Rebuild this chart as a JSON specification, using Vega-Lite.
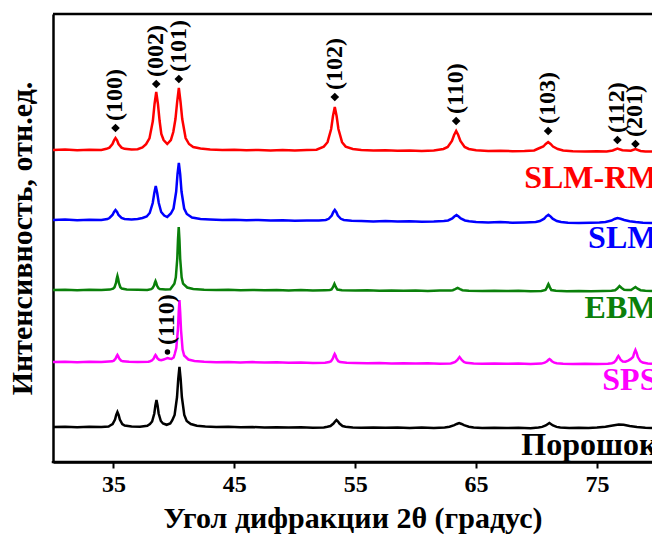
{
"$schema": "https://vega.github.io/schema/vega-lite/v6.json",
"width": 599, "height": 448,
"autosize": {"type": "none"},
"padding": {"left": 53, "top": 14, "right": 0, "bottom": 72},
"background": "white",
"config": {"view": {"stroke": "black", "strokeWidth": 2.5, "strokeDash": [600, 447]}, "font": "Liberation Serif"},
"datasets": {
"traces": [
{"s":"SLM-RM","x":30,"y":312},{"s":"SLM-RM","x":31,"y":312.5},{"s":"SLM-RM","x":32,"y":311.8},{"s":"SLM-RM","x":33,"y":312.3},{"s":"SLM-RM","x":34,"y":312},{"s":"SLM-RM","x":34.42,"y":313.2},{"s":"SLM-RM","x":34.67,"y":314.4},{"s":"SLM-RM","x":34.92,"y":318},{"s":"SLM-RM","x":35.05,"y":321.6},{"s":"SLM-RM","x":35.17,"y":324},{"s":"SLM-RM","x":35.3,"y":321.6},{"s":"SLM-RM","x":35.42,"y":318},{"s":"SLM-RM","x":35.67,"y":314.4},{"s":"SLM-RM","x":35.92,"y":313.2},{"s":"SLM-RM","x":36.5,"y":312.5},{"s":"SLM-RM","x":37,"y":312.8},{"s":"SLM-RM","x":37.4,"y":314.5},{"s":"SLM-RM","x":37.7,"y":317.8},{"s":"SLM-RM","x":37.98,"y":323.6},{"s":"SLM-RM","x":38.26,"y":341},{"s":"SLM-RM","x":38.4,"y":358},{"s":"SLM-RM","x":38.54,"y":370},{"s":"SLM-RM","x":38.68,"y":358},{"s":"SLM-RM","x":38.82,"y":341},{"s":"SLM-RM","x":38.96,"y":328},{"s":"SLM-RM","x":39.15,"y":322},{"s":"SLM-RM","x":39.45,"y":318},{"s":"SLM-RM","x":39.75,"y":322},{"s":"SLM-RM","x":39.95,"y":330},{"s":"SLM-RM","x":40.13,"y":343},{"s":"SLM-RM","x":40.27,"y":360},{"s":"SLM-RM","x":40.41,"y":374},{"s":"SLM-RM","x":40.55,"y":360},{"s":"SLM-RM","x":40.69,"y":343},{"s":"SLM-RM","x":40.97,"y":324},{"s":"SLM-RM","x":41.25,"y":318},{"s":"SLM-RM","x":41.6,"y":315},{"s":"SLM-RM","x":42.2,"y":313.5},{"s":"SLM-RM","x":43,"y":312.5},{"s":"SLM-RM","x":44,"y":312},{"s":"SLM-RM","x":45,"y":312.3},{"s":"SLM-RM","x":46,"y":311.7},{"s":"SLM-RM","x":47,"y":312},{"s":"SLM-RM","x":48,"y":311.6},{"s":"SLM-RM","x":49,"y":312},{"s":"SLM-RM","x":50,"y":311.5},{"s":"SLM-RM","x":51,"y":312},{"s":"SLM-RM","x":51.8,"y":312.3},{"s":"SLM-RM","x":52.4,"y":315.4},{"s":"SLM-RM","x":52.71,"y":319.8},{"s":"SLM-RM","x":53.01,"y":333},{"s":"SLM-RM","x":53.16,"y":346},{"s":"SLM-RM","x":53.31,"y":355},{"s":"SLM-RM","x":53.46,"y":346},{"s":"SLM-RM","x":53.61,"y":333},{"s":"SLM-RM","x":53.91,"y":319.8},{"s":"SLM-RM","x":54.21,"y":315.4},{"s":"SLM-RM","x":54.8,"y":313},{"s":"SLM-RM","x":55.5,"y":312},{"s":"SLM-RM","x":56.5,"y":311.5},{"s":"SLM-RM","x":57.5,"y":311.8},{"s":"SLM-RM","x":58.5,"y":311.3},{"s":"SLM-RM","x":59.5,"y":311.6},{"s":"SLM-RM","x":60.5,"y":311},{"s":"SLM-RM","x":61.5,"y":311.4},{"s":"SLM-RM","x":62.3,"y":313},{"s":"SLM-RM","x":62.65,"y":315},{"s":"SLM-RM","x":63,"y":321},{"s":"SLM-RM","x":63.18,"y":327},{"s":"SLM-RM","x":63.35,"y":331},{"s":"SLM-RM","x":63.52,"y":327},{"s":"SLM-RM","x":63.7,"y":321},{"s":"SLM-RM","x":64.05,"y":315},{"s":"SLM-RM","x":64.4,"y":313},{"s":"SLM-RM","x":65,"y":311.8},{"s":"SLM-RM","x":66,"y":311},{"s":"SLM-RM","x":67,"y":311.3},{"s":"SLM-RM","x":68,"y":310.8},{"s":"SLM-RM","x":69,"y":311},{"s":"SLM-RM","x":69.8,"y":311.5},{"s":"SLM-RM","x":70.16,"y":313.5},{"s":"SLM-RM","x":70.56,"y":315.5},{"s":"SLM-RM","x":70.76,"y":318},{"s":"SLM-RM","x":70.96,"y":320},{"s":"SLM-RM","x":71.16,"y":318},{"s":"SLM-RM","x":71.36,"y":315.5},{"s":"SLM-RM","x":71.76,"y":313},{"s":"SLM-RM","x":72.2,"y":311.5},{"s":"SLM-RM","x":73,"y":310.8},{"s":"SLM-RM","x":74,"y":310.5},{"s":"SLM-RM","x":75,"y":310.8},{"s":"SLM-RM","x":75.8,"y":310.6},{"s":"SLM-RM","x":76.3,"y":311.5},{"s":"SLM-RM","x":76.69,"y":313.5},{"s":"SLM-RM","x":77.1,"y":311.8},{"s":"SLM-RM","x":77.8,"y":311.3},{"s":"SLM-RM","x":78.18,"y":313},{"s":"SLM-RM","x":78.6,"y":311},{"s":"SLM-RM","x":79,"y":310.6},{"s":"SLM-RM","x":79.55,"y":310.5},
{"s":"SLM","x":30,"y":242},{"s":"SLM","x":31,"y":242.4},{"s":"SLM","x":32,"y":241.8},{"s":"SLM","x":33,"y":242.2},{"s":"SLM","x":34,"y":242},{"s":"SLM","x":34.5,"y":243},{"s":"SLM","x":34.67,"y":244},{"s":"SLM","x":34.92,"y":247},{"s":"SLM","x":35.05,"y":250},{"s":"SLM","x":35.17,"y":252},{"s":"SLM","x":35.3,"y":250},{"s":"SLM","x":35.42,"y":247},{"s":"SLM","x":35.67,"y":244},{"s":"SLM","x":35.92,"y":243},{"s":"SLM","x":36.5,"y":242.5},{"s":"SLM","x":37,"y":243},{"s":"SLM","x":37.4,"y":244},{"s":"SLM","x":37.75,"y":245.5},{"s":"SLM","x":38,"y":249},{"s":"SLM","x":38.25,"y":259},{"s":"SLM","x":38.38,"y":269},{"s":"SLM","x":38.5,"y":276},{"s":"SLM","x":38.62,"y":269},{"s":"SLM","x":38.75,"y":259},{"s":"SLM","x":38.95,"y":250},{"s":"SLM","x":39.2,"y":246.5},{"s":"SLM","x":39.45,"y":245},{"s":"SLM","x":39.75,"y":248.5},{"s":"SLM","x":39.97,"y":253.5},{"s":"SLM","x":40.19,"y":270.5},{"s":"SLM","x":40.3,"y":288},{"s":"SLM","x":40.41,"y":299},{"s":"SLM","x":40.52,"y":288},{"s":"SLM","x":40.63,"y":270.5},{"s":"SLM","x":40.85,"y":253.5},{"s":"SLM","x":41.07,"y":248},{"s":"SLM","x":41.5,"y":244.5},{"s":"SLM","x":42.2,"y":243},{"s":"SLM","x":43,"y":242.5},{"s":"SLM","x":44,"y":242},{"s":"SLM","x":45,"y":242.3},{"s":"SLM","x":46,"y":241.7},{"s":"SLM","x":47,"y":242},{"s":"SLM","x":48,"y":241.5},{"s":"SLM","x":49,"y":241.8},{"s":"SLM","x":50,"y":241.3},{"s":"SLM","x":51,"y":241.6},{"s":"SLM","x":52,"y":241.5},{"s":"SLM","x":52.56,"y":242.1},{"s":"SLM","x":52.81,"y":243.2},{"s":"SLM","x":53.06,"y":246.5},{"s":"SLM","x":53.18,"y":249.8},{"s":"SLM","x":53.31,"y":252},{"s":"SLM","x":53.44,"y":249.8},{"s":"SLM","x":53.56,"y":246.5},{"s":"SLM","x":53.81,"y":243.2},{"s":"SLM","x":54.06,"y":242.1},{"s":"SLM","x":54.7,"y":241.3},{"s":"SLM","x":55.5,"y":241},{"s":"SLM","x":56.5,"y":240.6},{"s":"SLM","x":57.5,"y":241},{"s":"SLM","x":58.5,"y":240.4},{"s":"SLM","x":59.5,"y":240.8},{"s":"SLM","x":60.5,"y":240.2},{"s":"SLM","x":61.5,"y":240.5},{"s":"SLM","x":62.33,"y":241},{"s":"SLM","x":62.68,"y":241.5},{"s":"SLM","x":63.03,"y":243.5},{"s":"SLM","x":63.2,"y":245.5},{"s":"SLM","x":63.38,"y":247},{"s":"SLM","x":63.55,"y":245.5},{"s":"SLM","x":63.73,"y":243.5},{"s":"SLM","x":64.08,"y":241.5},{"s":"SLM","x":64.43,"y":240.7},{"s":"SLM","x":65,"y":240},{"s":"SLM","x":66,"y":239.6},{"s":"SLM","x":67,"y":239.9},{"s":"SLM","x":68,"y":239.3},{"s":"SLM","x":69,"y":239.6},{"s":"SLM","x":69.93,"y":240.1},{"s":"SLM","x":70.28,"y":241},{"s":"SLM","x":70.63,"y":243.3},{"s":"SLM","x":70.8,"y":245.7},{"s":"SLM","x":70.98,"y":247.3},{"s":"SLM","x":71.15,"y":245.7},{"s":"SLM","x":71.33,"y":243.3},{"s":"SLM","x":71.68,"y":241},{"s":"SLM","x":72.03,"y":240},{"s":"SLM","x":72.6,"y":239.2},{"s":"SLM","x":73.5,"y":239},{"s":"SLM","x":74.5,"y":239.3},{"s":"SLM","x":75.2,"y":239.5},{"s":"SLM","x":75.7,"y":240},{"s":"SLM","x":76.2,"y":241.5},{"s":"SLM","x":76.45,"y":243},{"s":"SLM","x":76.69,"y":244},{"s":"SLM","x":76.95,"y":243.3},{"s":"SLM","x":77.25,"y":242},{"s":"SLM","x":77.7,"y":240.8},{"s":"SLM","x":78.2,"y":240},{"s":"SLM","x":78.8,"y":239.3},{"s":"SLM","x":79.55,"y":239},
{"s":"EBM","x":30,"y":172},{"s":"EBM","x":31,"y":172.3},{"s":"EBM","x":32,"y":171.8},{"s":"EBM","x":33,"y":172.2},{"s":"EBM","x":34,"y":172},{"s":"EBM","x":34.7,"y":172.4},{"s":"EBM","x":34.97,"y":173.4},{"s":"EBM","x":35.09,"y":174.8},{"s":"EBM","x":35.21,"y":179},{"s":"EBM","x":35.27,"y":183.2},{"s":"EBM","x":35.33,"y":186},{"s":"EBM","x":35.39,"y":183.2},{"s":"EBM","x":35.45,"y":179},{"s":"EBM","x":35.57,"y":174.8},{"s":"EBM","x":35.69,"y":173.4},{"s":"EBM","x":36.1,"y":172.5},{"s":"EBM","x":37,"y":172.2},{"s":"EBM","x":37.8,"y":172},{"s":"EBM","x":38.12,"y":172.9},{"s":"EBM","x":38.24,"y":173.8},{"s":"EBM","x":38.36,"y":176.5},{"s":"EBM","x":38.42,"y":179.2},{"s":"EBM","x":38.48,"y":181},{"s":"EBM","x":38.54,"y":179.2},{"s":"EBM","x":38.6,"y":176.5},{"s":"EBM","x":38.72,"y":173.8},{"s":"EBM","x":38.84,"y":172.9},{"s":"EBM","x":39.3,"y":172.4},{"s":"EBM","x":39.7,"y":172.8},{"s":"EBM","x":40.04,"y":178.3},{"s":"EBM","x":40.16,"y":184.6},{"s":"EBM","x":40.28,"y":203.5},{"s":"EBM","x":40.34,"y":222.4},{"s":"EBM","x":40.4,"y":235},{"s":"EBM","x":40.46,"y":222.4},{"s":"EBM","x":40.52,"y":203.5},{"s":"EBM","x":40.64,"y":184.6},{"s":"EBM","x":40.76,"y":178.3},{"s":"EBM","x":41.1,"y":174.5},{"s":"EBM","x":41.6,"y":173},{"s":"EBM","x":42.5,"y":172.3},{"s":"EBM","x":43.5,"y":172},{"s":"EBM","x":44.5,"y":172.3},{"s":"EBM","x":45.5,"y":171.8},{"s":"EBM","x":46.5,"y":172.1},{"s":"EBM","x":47.5,"y":171.7},{"s":"EBM","x":48.5,"y":172},{"s":"EBM","x":49.5,"y":171.6},{"s":"EBM","x":50.5,"y":171.9},{"s":"EBM","x":51.5,"y":171.5},{"s":"EBM","x":52.5,"y":171.8},{"s":"EBM","x":52.9,"y":172},{"s":"EBM","x":53.04,"y":172.5},{"s":"EBM","x":53.16,"y":174.8},{"s":"EBM","x":53.22,"y":176.6},{"s":"EBM","x":53.28,"y":178.2},{"s":"EBM","x":53.34,"y":176.6},{"s":"EBM","x":53.4,"y":174.8},{"s":"EBM","x":53.52,"y":172.5},{"s":"EBM","x":53.9,"y":171.7},{"s":"EBM","x":55,"y":171.4},{"s":"EBM","x":56,"y":171.7},{"s":"EBM","x":57,"y":171.3},{"s":"EBM","x":58,"y":171.6},{"s":"EBM","x":59,"y":171.2},{"s":"EBM","x":60,"y":171.5},{"s":"EBM","x":61,"y":171.1},{"s":"EBM","x":62,"y":171.4},{"s":"EBM","x":62.9,"y":171.5},{"s":"EBM","x":63.07,"y":171.8},{"s":"EBM","x":63.27,"y":172.8},{"s":"EBM","x":63.47,"y":174},{"s":"EBM","x":63.67,"y":172.8},{"s":"EBM","x":63.87,"y":171.8},{"s":"EBM","x":64.4,"y":171.2},{"s":"EBM","x":65.5,"y":171},{"s":"EBM","x":66.5,"y":171.3},{"s":"EBM","x":67.5,"y":170.9},{"s":"EBM","x":68.5,"y":171.2},{"s":"EBM","x":69.5,"y":170.8},{"s":"EBM","x":70.4,"y":171.1},{"s":"EBM","x":70.74,"y":172},{"s":"EBM","x":70.86,"y":174.5},{"s":"EBM","x":70.92,"y":176.5},{"s":"EBM","x":70.98,"y":178},{"s":"EBM","x":71.04,"y":176.5},{"s":"EBM","x":71.1,"y":174.5},{"s":"EBM","x":71.22,"y":172},{"s":"EBM","x":71.6,"y":171.2},{"s":"EBM","x":72.5,"y":170.8},{"s":"EBM","x":73.5,"y":171.1},{"s":"EBM","x":74.5,"y":170.7},{"s":"EBM","x":75.5,"y":171},{"s":"EBM","x":76.2,"y":171.3},{"s":"EBM","x":76.5,"y":171.8},{"s":"EBM","x":76.68,"y":173.5},{"s":"EBM","x":76.86,"y":176},{"s":"EBM","x":77.04,"y":174},{"s":"EBM","x":77.25,"y":172.3},{"s":"EBM","x":77.5,"y":172},{"s":"EBM","x":77.82,"y":172},{"s":"EBM","x":78,"y":173.5},{"s":"EBM","x":78.18,"y":175},{"s":"EBM","x":78.36,"y":173.3},{"s":"EBM","x":78.6,"y":171.8},{"s":"EBM","x":79,"y":171.2},{"s":"EBM","x":79.55,"y":171},
{"s":"SPS","x":30,"y":100},{"s":"SPS","x":31,"y":100.3},{"s":"SPS","x":32,"y":99.8},{"s":"SPS","x":33,"y":100.2},{"s":"SPS","x":34,"y":100},{"s":"SPS","x":34.9,"y":100.7},{"s":"SPS","x":35.03,"y":101.4},{"s":"SPS","x":35.18,"y":103.5},{"s":"SPS","x":35.26,"y":105.6},{"s":"SPS","x":35.33,"y":107},{"s":"SPS","x":35.4,"y":105.6},{"s":"SPS","x":35.48,"y":103.5},{"s":"SPS","x":35.63,"y":101.4},{"s":"SPS","x":35.78,"y":100.7},{"s":"SPS","x":36.3,"y":100.2},{"s":"SPS","x":37,"y":100},{"s":"SPS","x":37.9,"y":100.3},{"s":"SPS","x":38.03,"y":100.8},{"s":"SPS","x":38.18,"y":101.5},{"s":"SPS","x":38.33,"y":103.5},{"s":"SPS","x":38.41,"y":105.6},{"s":"SPS","x":38.48,"y":107},{"s":"SPS","x":38.56,"y":105.6},{"s":"SPS","x":38.63,"y":103.8},{"s":"SPS","x":38.78,"y":102.2},{"s":"SPS","x":38.95,"y":101.8},{"s":"SPS","x":39.15,"y":102.5},{"s":"SPS","x":39.3,"y":103.2},{"s":"SPS","x":39.47,"y":104},{"s":"SPS","x":39.62,"y":103.5},{"s":"SPS","x":39.8,"y":103},{"s":"SPS","x":39.98,"y":104.5},{"s":"SPS","x":40.07,"y":108},{"s":"SPS","x":40.2,"y":114},{"s":"SPS","x":40.33,"y":132},{"s":"SPS","x":40.4,"y":150},{"s":"SPS","x":40.46,"y":162},{"s":"SPS","x":40.52,"y":150},{"s":"SPS","x":40.59,"y":132},{"s":"SPS","x":40.72,"y":112.5},{"s":"SPS","x":40.85,"y":106.5},{"s":"SPS","x":41.2,"y":102.5},{"s":"SPS","x":41.7,"y":101},{"s":"SPS","x":42.5,"y":100.3},{"s":"SPS","x":43.5,"y":99.8},{"s":"SPS","x":44.5,"y":100.1},{"s":"SPS","x":45.5,"y":99.6},{"s":"SPS","x":46.5,"y":99.9},{"s":"SPS","x":47.5,"y":99.4},{"s":"SPS","x":48.5,"y":99.7},{"s":"SPS","x":49.5,"y":99.2},{"s":"SPS","x":50.5,"y":99.5},{"s":"SPS","x":51.5,"y":99},{"s":"SPS","x":52.5,"y":99.3},{"s":"SPS","x":52.85,"y":99.9},{"s":"SPS","x":53,"y":100.8},{"s":"SPS","x":53.15,"y":103.5},{"s":"SPS","x":53.23,"y":106.2},{"s":"SPS","x":53.3,"y":108},{"s":"SPS","x":53.38,"y":106.2},{"s":"SPS","x":53.45,"y":103.5},{"s":"SPS","x":53.6,"y":100.8},{"s":"SPS","x":53.75,"y":99.9},{"s":"SPS","x":54.3,"y":99.2},{"s":"SPS","x":55,"y":99},{"s":"SPS","x":56,"y":98.7},{"s":"SPS","x":57,"y":99},{"s":"SPS","x":58,"y":98.5},{"s":"SPS","x":59,"y":98.8},{"s":"SPS","x":60,"y":98.4},{"s":"SPS","x":61,"y":98.7},{"s":"SPS","x":62,"y":98.3},{"s":"SPS","x":62.9,"y":98.6},{"s":"SPS","x":63.09,"y":99.3},{"s":"SPS","x":63.27,"y":100},{"s":"SPS","x":63.45,"y":102},{"s":"SPS","x":63.54,"y":103.6},{"s":"SPS","x":63.63,"y":105},{"s":"SPS","x":63.72,"y":103.6},{"s":"SPS","x":63.81,"y":102},{"s":"SPS","x":63.99,"y":100},{"s":"SPS","x":64.17,"y":99.2},{"s":"SPS","x":64.8,"y":98.6},{"s":"SPS","x":65.5,"y":98.3},{"s":"SPS","x":66.5,"y":98.6},{"s":"SPS","x":67.5,"y":98.2},{"s":"SPS","x":68.5,"y":98.5},{"s":"SPS","x":69.5,"y":98.1},{"s":"SPS","x":70.4,"y":98.4},{"s":"SPS","x":70.67,"y":99.3},{"s":"SPS","x":70.87,"y":100.8},{"s":"SPS","x":70.97,"y":102},{"s":"SPS","x":71.07,"y":103},{"s":"SPS","x":71.17,"y":102},{"s":"SPS","x":71.27,"y":100.8},{"s":"SPS","x":71.47,"y":99.3},{"s":"SPS","x":71.67,"y":98.7},{"s":"SPS","x":72.2,"y":98.2},{"s":"SPS","x":73,"y":98},{"s":"SPS","x":74,"y":98.3},{"s":"SPS","x":75,"y":97.9},{"s":"SPS","x":75.9,"y":98.2},{"s":"SPS","x":76.23,"y":98.8},{"s":"SPS","x":76.41,"y":99.6},{"s":"SPS","x":76.59,"y":102},{"s":"SPS","x":76.68,"y":104.4},{"s":"SPS","x":76.77,"y":106},{"s":"SPS","x":76.86,"y":104.4},{"s":"SPS","x":76.95,"y":102.2},{"s":"SPS","x":77.13,"y":100.5},{"s":"SPS","x":77.35,"y":100.3},{"s":"SPS","x":77.58,"y":101.4},{"s":"SPS","x":77.78,"y":102.8},{"s":"SPS","x":77.98,"y":105},{"s":"SPS","x":78.08,"y":109.2},{"s":"SPS","x":78.18,"y":112},{"s":"SPS","x":78.28,"y":109.2},{"s":"SPS","x":78.38,"y":105},{"s":"SPS","x":78.58,"y":100.8},{"s":"SPS","x":78.78,"y":99.4},{"s":"SPS","x":79.2,"y":98.5},{"s":"SPS","x":79.55,"y":98.2},
{"s":"Порошок","x":30,"y":35},{"s":"Порошок","x":31,"y":35.3},{"s":"Порошок","x":32,"y":34.8},{"s":"Порошок","x":33,"y":35.2},{"s":"Порошок","x":34,"y":35},{"s":"Порошок","x":34.6,"y":35.5},{"s":"Порошок","x":34.73,"y":36.5},{"s":"Порошок","x":34.93,"y":38},{"s":"Порошок","x":35.13,"y":42.5},{"s":"Порошок","x":35.23,"y":47},{"s":"Порошок","x":35.33,"y":50},{"s":"Порошок","x":35.43,"y":47},{"s":"Порошок","x":35.53,"y":42.5},{"s":"Порошок","x":35.73,"y":38},{"s":"Порошок","x":35.93,"y":36.5},{"s":"Порошок","x":36.5,"y":35.5},{"s":"Порошок","x":37.2,"y":35.3},{"s":"Порошок","x":37.8,"y":36.2},{"s":"Порошок","x":38.02,"y":37.9},{"s":"Порошок","x":38.2,"y":40.5},{"s":"Порошок","x":38.38,"y":48.5},{"s":"Порошок","x":38.47,"y":56.6},{"s":"Порошок","x":38.56,"y":62},{"s":"Порошок","x":38.65,"y":56.6},{"s":"Порошок","x":38.74,"y":48.5},{"s":"Порошок","x":38.92,"y":41},{"s":"Порошок","x":39.1,"y":38.5},{"s":"Порошок","x":39.4,"y":37.2},{"s":"Порошок","x":39.7,"y":38.5},{"s":"Порошок","x":39.86,"y":41.5},{"s":"Порошок","x":40.06,"y":47},{"s":"Порошок","x":40.26,"y":65},{"s":"Порошок","x":40.36,"y":83},{"s":"Порошок","x":40.46,"y":95},{"s":"Порошок","x":40.56,"y":83},{"s":"Порошок","x":40.66,"y":65},{"s":"Порошок","x":40.86,"y":47},{"s":"Порошок","x":41.06,"y":41},{"s":"Порошок","x":41.4,"y":38},{"s":"Порошок","x":41.9,"y":36.2},{"s":"Порошок","x":42.6,"y":35.5},{"s":"Порошок","x":43.5,"y":35},{"s":"Порошок","x":44.5,"y":35.2},{"s":"Порошок","x":45.5,"y":34.7},{"s":"Порошок","x":46.5,"y":35},{"s":"Порошок","x":47.5,"y":34.5},{"s":"Порошок","x":48.5,"y":34.8},{"s":"Порошок","x":49.5,"y":34.4},{"s":"Порошок","x":50.5,"y":34.7},{"s":"Порошок","x":51.5,"y":34.3},{"s":"Порошок","x":52.4,"y":34.6},{"s":"Порошок","x":52.7,"y":35.2},{"s":"Порошок","x":52.95,"y":36},{"s":"Порошок","x":53.2,"y":38.4},{"s":"Порошок","x":53.33,"y":40.4},{"s":"Порошок","x":53.45,"y":42},{"s":"Порошок","x":53.58,"y":40.4},{"s":"Порошок","x":53.7,"y":38.4},{"s":"Порошок","x":53.95,"y":36},{"s":"Порошок","x":54.2,"y":35.2},{"s":"Порошок","x":54.8,"y":34.5},{"s":"Порошок","x":55.5,"y":34.3},{"s":"Порошок","x":56.5,"y":34.6},{"s":"Порошок","x":57.5,"y":34.2},{"s":"Порошок","x":58.5,"y":34.5},{"s":"Порошок","x":59.5,"y":34.1},{"s":"Порошок","x":60.5,"y":34.4},{"s":"Порошок","x":61.5,"y":34},{"s":"Порошок","x":62.4,"y":34.6},{"s":"Порошок","x":62.8,"y":35.3},{"s":"Порошок","x":63.2,"y":36.8},{"s":"Порошок","x":63.4,"y":38},{"s":"Порошок","x":63.6,"y":39},{"s":"Порошок","x":63.8,"y":38},{"s":"Порошок","x":64,"y":36.8},{"s":"Порошок","x":64.4,"y":35.3},{"s":"Порошок","x":64.8,"y":34.5},{"s":"Порошок","x":65.5,"y":34},{"s":"Порошок","x":66.5,"y":34.3},{"s":"Порошок","x":67.5,"y":33.9},{"s":"Порошок","x":68.5,"y":34.2},{"s":"Порошок","x":69.5,"y":33.8},{"s":"Порошок","x":70.16,"y":34.5},{"s":"Порошок","x":70.46,"y":35.1},{"s":"Порошок","x":70.76,"y":36.5},{"s":"Порошок","x":70.91,"y":37.8},{"s":"Порошок","x":71.06,"y":39},{"s":"Порошок","x":71.21,"y":37.8},{"s":"Порошок","x":71.36,"y":36.5},{"s":"Порошок","x":71.66,"y":35.1},{"s":"Порошок","x":71.96,"y":34.4},{"s":"Порошок","x":72.7,"y":34},{"s":"Порошок","x":73.5,"y":34.2},{"s":"Порошок","x":74.3,"y":34},{"s":"Порошок","x":75,"y":34.5},{"s":"Порошок","x":75.7,"y":35.3},{"s":"Порошок","x":76.3,"y":36.5},{"s":"Порошок","x":76.8,"y":37.5},{"s":"Порошок","x":77.2,"y":37.3},{"s":"Порошок","x":77.7,"y":36},{"s":"Порошок","x":78.3,"y":35},{"s":"Порошок","x":79,"y":34.3},{"s":"Порошок","x":79.55,"y":34}
],
"ann": [
{"t":"(100)","x":35.17,"y":334,"m":"diamond"},
{"t":"(002)","x":38.54,"y":378,"m":"diamond"},
{"t":"(101)","x":40.41,"y":383,"m":"diamond"},
{"t":"(102)","x":53.31,"y":365,"m":"diamond"},
{"t":"(110)","x":63.35,"y":341,"m":"diamond"},
{"t":"(103)","x":70.96,"y":331,"m":"diamond"},
{"t":"(112)","x":76.69,"y":322,"m":"diamond"},
{"t":"(201)","x":78.18,"y":318,"m":"diamond"},
{"t":"(110)","x":39.47,"y":110,"m":"circle"}
],
"names": [
{"s":"SLM-RM","x":80,"y":274},
{"s":"SLM","x":80,"y":214},
{"s":"EBM","x":80,"y":144},
{"s":"SPS","x":80,"y":72},
{"s":"Порошок","x":80,"y":7}
]
},
"encoding": {
"x": {"field": "x", "type": "quantitative", "scale": {"domain": [30, 79.55], "nice": false, "zero": false},
"axis": {"values": [35,45,55,65,75], "grid": false, "tickSize": 6, "tickWidth": 2, "tickColor": "black", "domainColor": "black", "domainWidth": 2.5, "labelFont": "Liberation Serif", "labelFontSize": 24, "labelFontWeight": "bold", "labelColor": "black", "labelPadding": 4, "title": "Угол дифракции 2θ (градус)", "titleFont": "Liberation Serif", "titleFontSize": 30, "titleFontWeight": "bold", "titleColor": "black", "titlePadding": 7}},
"y": {"field": "y", "type": "quantitative", "scale": {"domain": [0, 448], "nice": false, "zero": true},
"axis": {"ticks": false, "labels": false, "grid": false, "domainColor": "black", "domainWidth": 2.5, "title": "Интенсивность, отн.ед.", "titleFont": "Liberation Serif", "titleFontSize": 30, "titleFontWeight": "bold", "titleColor": "black", "titlePadding": 16}}
},
"layer": [
{
"data": {"name": "traces"},
"mark": {"type": "line", "strokeWidth": 2.5, "clip": true},
"encoding": {
"color": {"field": "s", "type": "nominal", "scale": {"domain": ["SLM-RM","SLM","EBM","SPS","Порошок"], "range": ["#ff0000","#0000ff","#0a800a","#ff00ff","#000000"]}, "legend": null}
}
},
{
"data": {"name": "ann"},
"mark": {"type": "point", "filled": true, "color": "black", "opacity": 1},
"encoding": {
"shape": {"field": "m", "type": "nominal", "scale": {"domain": ["diamond","circle"], "range": ["diamond","circle"]}, "legend": null},
"size": {"field": "m", "type": "nominal", "scale": {"domain": ["diamond","circle"], "range": [75, 30]}, "legend": null}
}
},
{
"data": {"name": "ann"},
"mark": {"type": "text", "angle": 270, "align": "left", "baseline": "middle", "dx": 7, "font": "Liberation Serif", "fontSize": 24, "fontWeight": "bold", "color": "black"},
"encoding": {
"text": {"field": "t"}
}
},
{
"data": {"name": "names"},
"mark": {"type": "text", "align": "right", "baseline": "alphabetic", "font": "Liberation Serif", "fontSize": 32, "fontWeight": "bold"},
"encoding": {
"text": {"field": "s"},
"color": {"field": "s", "type": "nominal", "legend": null}
}
}
]
}
